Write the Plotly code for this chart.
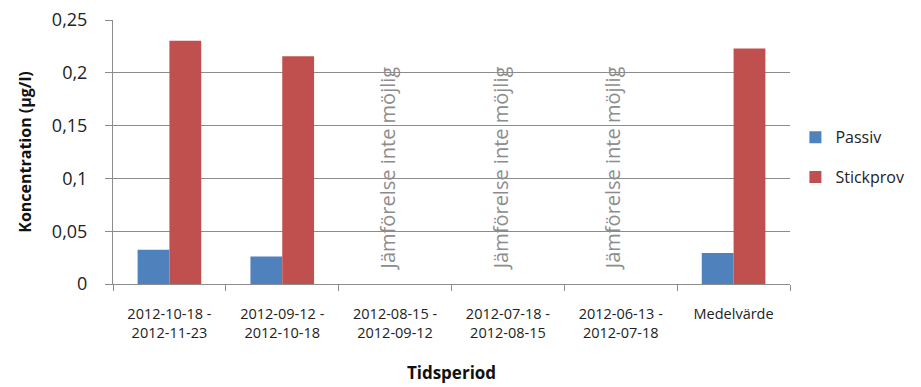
import plotly.graph_objects as go

# Sampling periods and the overall mean
categories = [
    "2012-10-18 -<br>2012-11-23",
    "2012-09-12 -<br>2012-10-18",
    "2012-08-15 -<br>2012-09-12",
    "2012-07-18 -<br>2012-08-15",
    "2012-06-13 -<br>2012-07-18",
    "Medelvärde",
]
passiv = [0.0324, 0.0261, None, None, None, 0.0293]
stickprov = [0.2304, 0.2157, None, None, None, 0.2231]
no_comparison = [2, 3, 4]  # indices of periods without a comparison
no_comparison_text = "Jämförelse inte möjlig"
y_ticks = [0, 0.05, 0.1, 0.15, 0.2, 0.25]

FONT = "Open Sans"
GRID = "#8c8c8c"

fig = go.Figure()
fig.add_trace(go.Bar(name="Passiv", x=categories, y=passiv, marker_color="#4F81BD",
                     marker_line_width=0, legendgroup="p"))
fig.add_trace(go.Bar(name="Stickprov", x=categories, y=stickprov, marker_color="#C0504D",
                     marker_line_width=0, legendgroup="s"))

for i in no_comparison:
    fig.add_annotation(
        x=categories[i], y=0.011, xref="x", yref="y",
        text=no_comparison_text, textangle=-90, showarrow=False,
        xanchor="center", yanchor="bottom", xshift=-8,
        font=dict(family=FONT, size=20, color="#8c8c8c"),
    )

fig.update_layout(
    width=921, height=387,
    margin=dict(l=113, r=127, t=20, b=103),
    paper_bgcolor="white", plot_bgcolor="white",
    separators=", ",
    barmode="group", bargap=0.436, bargroupgap=0,
    font=dict(family=FONT, color="#222222"),
    showlegend=True,
    legend=dict(x=1.008, y=0.48, xanchor="left", yanchor="middle",
                font=dict(family=FONT, size=16, color="#222222"),
                itemwidth=30, tracegroupgap=16),
)
fig.update_xaxes(
    type="category", showline=True, linecolor=GRID, linewidth=1, automargin=False,
    ticks="outside", tickson="boundaries", ticklen=6, tickcolor=GRID,
    ticklabelstandoff=17,
    tickfont=dict(family=FONT, size=14.5, color="#222222"),
    title=dict(text="<b>Tidsperiod</b>", font=dict(family=FONT, size=17, color="#111111"),
               standoff=25),
)
fig.update_yaxes(
    range=[0, 0.25], tickvals=y_ticks, showgrid=True, automargin=False,
    gridcolor=GRID, gridwidth=1, showline=True, linecolor=GRID, linewidth=1,
    ticks="outside", ticklen=7, tickcolor=GRID, ticklabelstandoff=14,
    tickfont=dict(family=FONT, size=18, color="#222222"),
    title=dict(text="<b>Koncentration (µg/l)</b>", font=dict(family=FONT, size=16, color="#111111"),
               standoff=16),
    zeroline=False,
)

fig.write_html("out.html")
